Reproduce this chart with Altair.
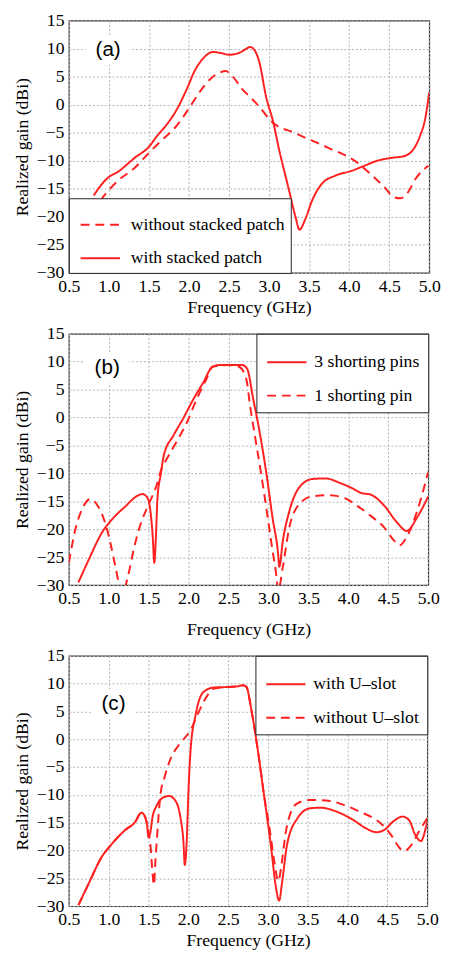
import altair as alt
import pandas as pd

RED = "#ff2020"
SERIF = "Liberation Serif"
SANS = "Liberation Sans"

# ---------------- panel (a) ----------------
a_labels = ["without stacked patch", "with stacked patch"]
a_with_x = [0.81, 0.91, 0.99, 1.11, 1.32, 1.5, 1.6, 1.73, 1.85, 1.97, 2.07, 2.18, 2.3, 2.4, 2.5,
            2.62, 2.72, 2.76, 2.82, 2.88, 2.96, 3.05, 3.13, 3.25, 3.33, 3.38, 3.45, 3.54, 3.66,
            3.82, 4.03, 4.19, 4.35, 4.52, 4.68, 4.8, 4.89, 4.95, 5.0]
a_with_y = [-16.2, -14.2, -13.0, -12.0, -9.5, -7.5, -5.6, -3.4, -0.8, 2.7, 6.0, 8.3, 9.4, 9.2, 8.9,
            9.2, 10.0, 10.3, 9.7, 7.5, 1.6, -3.0, -8.3, -15.3, -20.0, -22.3, -20.5, -17.0, -14.1,
            -12.7, -11.8, -10.9, -10.0, -9.5, -9.2, -8.0, -5.4, -2.5, 2.2]
a_without_x = [0.81, 0.91, 0.99, 1.11, 1.32, 1.5, 1.64, 1.85, 2.03, 2.13, 2.26, 2.38, 2.46, 2.54,
               2.67, 2.79, 2.88, 3.03, 3.33, 3.74, 4.07, 4.27, 4.44, 4.56, 4.64, 4.72, 4.84, 4.99]
a_without_y = [-19.4, -16.8, -15.4, -13.6, -11.3, -8.6, -6.6, -3.7, 0.0, 2.2, 4.5, 5.7, 6.0, 5.1,
               2.7, 1.0, -0.4, -3.0, -5.1, -7.7, -10.0, -12.4, -14.7, -16.5, -16.7, -15.9, -13.0, -10.9]

# ---------------- panel (b) ----------------
b_labels = ["3 shorting pins", "1 shorting pin"]
b_three_x = [0.62, 0.75, 0.91, 1.03, 1.2, 1.36, 1.42, 1.48, 1.52, 1.55, 1.57, 1.59, 1.61, 1.65,
             1.69, 1.81, 1.93, 2.06, 2.18, 2.3, 2.39, 2.5, 2.67, 2.73, 2.81, 2.89, 2.97, 3.05,
             3.12, 3.135, 3.18, 3.26, 3.38, 3.55, 3.71, 3.91, 4.04, 4.16, 4.28, 4.45, 4.61,
             4.73, 4.86, 5.0]
b_three_y = [-29.5, -25.4, -20.7, -18.4, -16.0, -14.0, -13.7, -14.3, -16.6, -21.3, -26.0, -21.3,
             -14.3, -10.2, -6.7, -3.2, -0.2, 3.3, 6.2, 9.1, 9.4, 9.4, 9.4, 8.8, 3.2, -2.7, -9.7,
             -17.9, -24.4, -26.7, -22.0, -16.8, -12.6, -11.0, -10.9, -11.8, -12.6, -13.5, -13.8,
             -15.8, -18.8, -20.3, -17.9, -14.1]
b_one_x = [0.5, 0.58, 0.66, 0.77, 0.87, 0.97, 1.03, 1.09, 1.14, 1.17, 1.24, 1.32, 1.4, 1.5, 1.59,
           1.65, 1.73, 1.85, 1.98, 2.1, 2.22, 2.3, 2.5, 2.63, 2.72, 2.77, 2.83, 2.91, 2.99, 3.05,
           3.1, 3.12, 3.18, 3.26, 3.38, 3.55, 3.75, 3.95, 4.12, 4.28, 4.45, 4.57, 4.64, 4.73,
           4.86, 5.0]
b_one_y = [-26.0, -20.1, -16.6, -14.6, -16.0, -19.6, -23.1, -27.2, -30.5, -31.5, -28.4, -23.1,
           -19.0, -15.5, -12.5, -9.6, -7.3, -4.3, -0.8, 3.3, 6.8, 9.1, 9.4, 9.1, 7.0, 2.0, -3.3,
           -10.3, -17.9, -23.8, -28.5, -31.0, -26.7, -19.7, -15.6, -14.1, -13.9, -14.4, -15.9,
           -17.6, -19.7, -22.0, -22.9, -21.4, -16.8, -9.7]

# ---------------- panel (c) ----------------
c_labels = ["with U\u2013slot", "without U\u2013slot"]
c_with_x = [0.62, 0.75, 0.91, 1.04, 1.2, 1.33, 1.41, 1.44, 1.48, 1.5, 1.52, 1.55, 1.6, 1.68, 1.76,
            1.84, 1.9, 1.94, 1.955, 1.98, 2.0, 2.03, 2.09, 2.19, 2.32, 2.5, 2.61, 2.69, 2.73,
            2.79, 2.87, 2.95, 3.04, 3.1, 3.14, 3.18, 3.24, 3.37, 3.53, 3.66, 3.86, 4.07, 4.23,
            4.36, 4.46, 4.57, 4.69, 4.77, 4.85, 4.92, 4.98, 5.0]
c_with_y = [-29.8, -25.9, -21.2, -18.8, -16.4, -14.9, -13.2, -13.5, -15.2, -17.6, -17.0, -14.0,
            -12.0, -10.5, -10.2, -11.1, -14.0, -18.8, -22.6, -18.2, -9.9, -1.6, 4.3, 8.5, 9.3,
            9.4, 9.5, 9.7, 9.4, 5.4, -1.7, -10.0, -19.5, -26.6, -29.0, -25.4, -18.9, -14.2,
            -12.4, -12.3, -13.0, -14.5, -16.0, -16.7, -16.3, -14.8, -13.9, -14.5, -17.2, -18.3,
            -16.0, -14.8]
c_without_x = [0.62, 0.75, 0.91, 1.04, 1.2, 1.33, 1.41, 1.44, 1.49, 1.53, 1.55, 1.57, 1.58, 1.61,
               1.65, 1.7, 1.78, 1.9, 2.03, 2.13, 2.24, 2.32, 2.5, 2.61, 2.69, 2.73, 2.79, 2.87,
               2.95, 3.02, 3.08, 3.13, 3.17, 3.22, 3.29, 3.37, 3.53, 3.78, 3.95, 4.15, 4.36, 4.48,
               4.57, 4.65, 4.71, 4.79, 4.9, 5.0]
c_without_y = [-29.8, -25.9, -21.2, -18.8, -16.4, -14.9, -13.2, -13.5, -15.8, -20.0, -24.1, -26.2,
               -23.5, -17.0, -9.9, -6.9, -3.4, -0.7, 1.7, 4.9, 7.9, 9.1, 9.4, 9.5, 9.7, 9.4, 5.4,
               -1.7, -10.0, -16.0, -22.0, -25.5, -22.5, -17.0, -13.0, -11.5, -10.9, -11.1, -11.8,
               -13.0, -14.5, -16.0, -17.7, -19.5, -20.1, -19.2, -16.5, -14.2]

x_ticks = [0.5, 1.0, 1.5, 2.0, 2.5, 3.0, 3.5, 4.0, 4.5, 5.0]
y_ticks = [-30, -25, -20, -15, -10, -5, 0, 5, 10, 15]

SOLID = [1, 0]
DASH = [9, 6]
FS = 18


def frame(series):
    parts = []
    for name, xs, ys in series:
        parts.append(pd.DataFrame({"f": xs, "g": ys, "s": name}))
    return pd.concat(parts, ignore_index=True)


def panel(df, order, dashes, tag, tag_x, tag_y, orient, w, h, xtitle_pad, lpad, lsym, llab):
    xaxis = alt.Axis(values=x_ticks, format=".1f", title="Frequency (GHz)",
                     titlePadding=xtitle_pad, labelOverlap=False, labelFlush=False,
                     labelPadding=5)
    yaxis = alt.Axis(values=y_ticks, title="Realized gain (dBi)", titlePadding=5,
                     labelOverlap=False, labelFlush=False, labelPadding=5)
    xs = alt.Scale(domain=[0.5, 5.0], nice=False, zero=False)
    ys = alt.Scale(domain=[-30, 15], nice=False, zero=False)
    tagdf = pd.DataFrame({"t": [tag]})
    blank = alt.Chart(tagdf).mark_rect(color="white").encode(
        x=alt.X(datum=tag_x - 0.28, scale=xs, axis=xaxis),
        x2=alt.X2(datum=tag_x + 0.28),
        y=alt.Y(datum=tag_y - 2.6, scale=ys, axis=yaxis),
        y2=alt.Y2(datum=tag_y + 2.6),
    )
    lines = alt.Chart(df).mark_line(
        clip=True, strokeWidth=2, color=RED, interpolate="monotone"
    ).encode(
        x=alt.X("f:Q", scale=xs, axis=xaxis),
        y=alt.Y("g:Q", scale=ys, axis=yaxis),
        strokeDash=alt.StrokeDash(
            "s:N",
            sort=order,
            scale=alt.Scale(domain=order, range=dashes),
            legend=alt.Legend(
                title=None, orient=orient, offset=0, symbolType="stroke", symbolSize=1600,
                symbolStrokeWidth=2, symbolStrokeColor=RED, symbolOffset=lsym,
                labelFont=SERIF, labelFontSize=FS, labelColor="black",
                fillColor="white", strokeColor="#222", padding=lpad,
                rowPadding=4, labelOffset=llab, labelLimit=400, cornerRadius=0,
            ),
        ),
    )
    text = alt.Chart(tagdf).mark_text(font=SANS, fontSize=21, color="black").encode(
        x=alt.X(datum=tag_x, scale=xs, axis=xaxis),
        y=alt.Y(datum=tag_y, scale=ys, axis=yaxis),
        text="t:N",
    )
    return alt.layer(blank, lines, text).properties(width=w, height=h)


pa = panel(frame([(a_labels[0], a_without_x, a_without_y), (a_labels[1], a_with_x, a_with_y)]),
           a_labels, [DASH, SOLID], "(a)", 0.99, 9.75, "bottom-left", 367, 257, 3, 6, 5, 10)
pb = panel(frame([(b_labels[0], b_three_x, b_three_y), (b_labels[1], b_one_x, b_one_y)]),
           b_labels, [SOLID, DASH], "(b)", 0.98, 8.85, "top-right", 366, 256, 13, 8, 2, 7)
pc = panel(frame([(c_labels[0], c_with_x, c_with_y), (c_labels[1], c_without_x, c_without_y)]),
           c_labels, [SOLID, DASH], "(c)", 1.06, 6.4, "top-right", 365, 255, 3, 8, 2, 7)

chart = alt.vconcat(pa, pb, pc, spacing=7).resolve_scale(
    strokeDash="independent"
).resolve_legend(strokeDash="independent").properties(
    padding={"left": 5, "top": -6, "right": 0, "bottom": 0}
).configure_axis(
    labelFont=SERIF, labelFontSize=FS, labelColor="black",
    titleFont=SERIF, titleFontSize=FS, titleFontWeight="normal", titleColor="black",
    grid=True, gridColor="#b4b4b4", gridDash=[2, 2], gridWidth=1,
    domain=False, ticks=False, labelOverlap=False,
).configure_view(stroke="#333333", strokeWidth=1.2)

chart.save("out.html", embed_options={"renderer": "svg", "actions": False})
